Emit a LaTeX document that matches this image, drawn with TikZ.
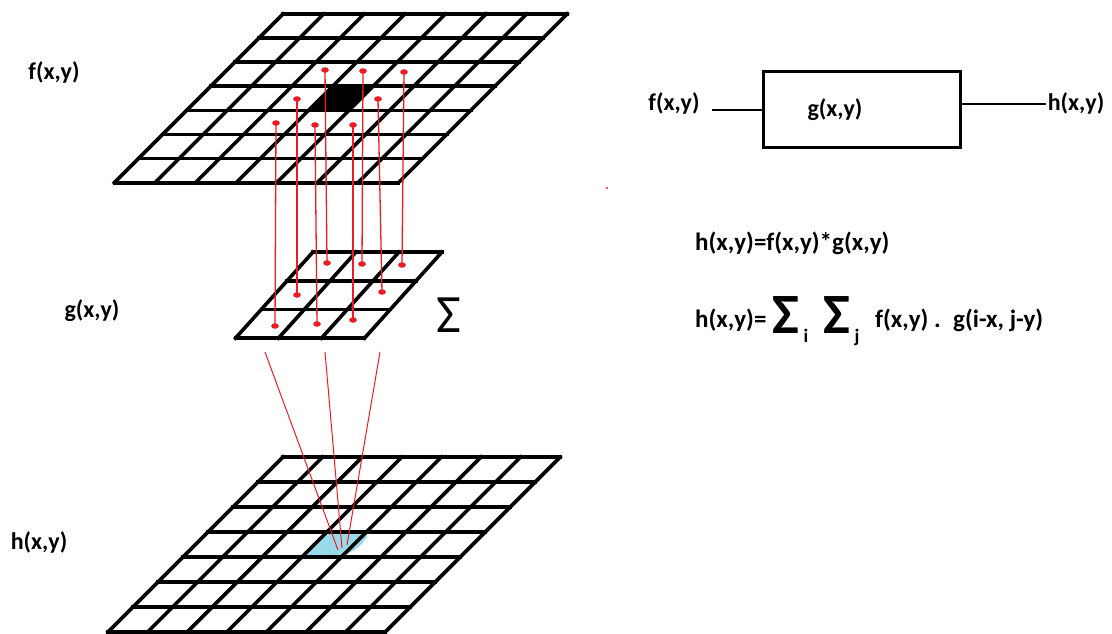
\documentclass[tikz,border=0pt]{standalone}
\usepackage{fontspec}
\setmainfont{Carlito}
\definecolor{pred}{RGB}{237,28,36}
\definecolor{pblue}{RGB}{153,217,234}
\newcommand{\slgrid}[6]{%
  \foreach \j in {0,...,#6} {
    \draw[gridline] ({#1-#5*\j*#4},{#2+\j*#4}) -- ++({#6*#3},0);
  }
  \foreach \i in {0,...,#6} {
    \draw[gridline] ({#1+\i*#3},#2) -- ++({-#5*#6*#4},{#6*#4});
  }
}
\newcommand{\slcell}[8]{% X0 Y0 cw rh s row col style
  \fill[#8] ({#1-#5*#6*#4+#7*#3},{#2+#6*#4}) -- ++(#3,0) -- ++({-#5*#4},#4) -- ++({-#3},0) -- cycle;
}
\begin{document}
\begin{tikzpicture}[x=1pt,y=-1pt,
  gridline/.style={line width=3.6pt,line cap=rect},
  redline/.style={pred,line width=1.3pt},
  reddot/.style={fill=pred},
  lbl/.style={font=\fontsize{24}{28}\selectfont\bfseries,inner sep=0pt},
  eqlbl/.style={font=\fontsize{25}{29}\selectfont\bfseries,inner sep=0pt},
  sublbl/.style={font=\fontsize{19}{22}\selectfont\bfseries,inner sep=0pt},
  bigsum/.style={font=\fontsize{57}{57}\selectfont\bfseries,inner sep=0pt},
  thinline/.style={line width=1.5pt}]
\useasboundingbox (0,0) rectangle (1112,634);
% fills
\slcell{283}{14}{40.6}{24.1}{1.0}{3}{3}{black}
\slcell{283}{457}{39.6}{25}{1.0}{3}{3}{pblue}
\fill[pblue] (312,548) .. controls (318,538) and (330,530) .. (350,530) .. controls (362,530) and (370,532) .. (367,537) .. controls (360,548) and (350,556) .. (330,556) .. controls (318,556) and (308,554) .. (312,548) -- cycle;
% grids
\slgrid{283}{14}{40.6}{24.1}{1.0}{7}
\slgrid{313}{252}{43}{28.7}{0.9}{3}
\slgrid{283}{457}{39.6}{25}{1.0}{7}
% kernel dots on f
\coordinate (f1) at (325,70);
\coordinate (f2) at (363,71);
\coordinate (f3) at (404,72);
\coordinate (f4) at (297,99);
\coordinate (f5) at (378,99);
\coordinate (f6) at (276,123);
\coordinate (f7) at (315,125);
\coordinate (f8) at (353,125);
% kernel dots on g
\coordinate (g1) at (327,263);
\coordinate (g2) at (362,264);
\coordinate (g3) at (402,265);
\coordinate (g4) at (297,295);
\coordinate (g5) at (382,292);
\coordinate (g6) at (275,326);
\coordinate (g7) at (317,324);
\coordinate (g8) at (353,320);
\foreach \k in {1,...,8} {
  \draw[redline] (f\k) -- (g\k);
  \fill[reddot] (f\k) ellipse (3.8 and 2.8);
  \fill[reddot] (g\k) ellipse (3.8 and 2.8);
}
% lines to h
\coordinate (s1) at (265,352);
\coordinate (s2) at (325,352);
\coordinate (s3) at (380,352);
\coordinate (t1) at (338,550);
\coordinate (t2) at (342,548);
\coordinate (t3) at (347,545);
\draw[redline,line width=1pt] (s1) -- (t1);
\draw[redline,line width=1pt] (s2) -- (t2);
\draw[redline,line width=1pt] (s3) -- (t3);
\fill[pred] (607,188) circle (1.2);
% sigma by g
\node[inner sep=0pt] (sig) at (449,315) {\fontsize{54}{54}\selectfont Σ};
% labels
\node[lbl] (fl) at (54,72) {f(x,y)};
\node[lbl] (gl) at (92,311) {g(x,y)};
\node[lbl] (hl) at (39,542) {h(x,y)};
% block diagram
\node[draw,line width=3pt,minimum width=197pt,minimum height=76pt,inner sep=0pt] (box) at (862,109.5) {};
\node[lbl] (gin) at (835,110) {g(x,y)};
\node[lbl] (fin) at (674,103) {f(x,y)};
\node[lbl] (hout) at (1076,103) {h(x,y)};
\coordinate (fa) at (712,110);
\coordinate (hb) at (1046,104);
\draw[thinline] (fa) -- (fa -| box.west);
\draw[thinline] (hb -| box.east) -- (hb);
% equations
\node[eqlbl,anchor=west] (eq1) at (695,243) {h(x,y)=f(x,y)*g(x,y)};
\node[eqlbl,anchor=west] (eq2) at (695,320) {h(x,y)=};
\node[bigsum] (sg1) at (786,315) {Σ};
\node[sublbl] (si) at (806,336) {i};
\node[bigsum] (sg2) at (837,315) {Σ};
\node[sublbl] (sj) at (857,337) {j};
\node[eqlbl,anchor=west] (eq3) at (875,320) {f(x,y) .};
\node[eqlbl,anchor=west] (eq4) at (953,320) {g(i-x, j-y)};
\end{tikzpicture}
\end{document}
